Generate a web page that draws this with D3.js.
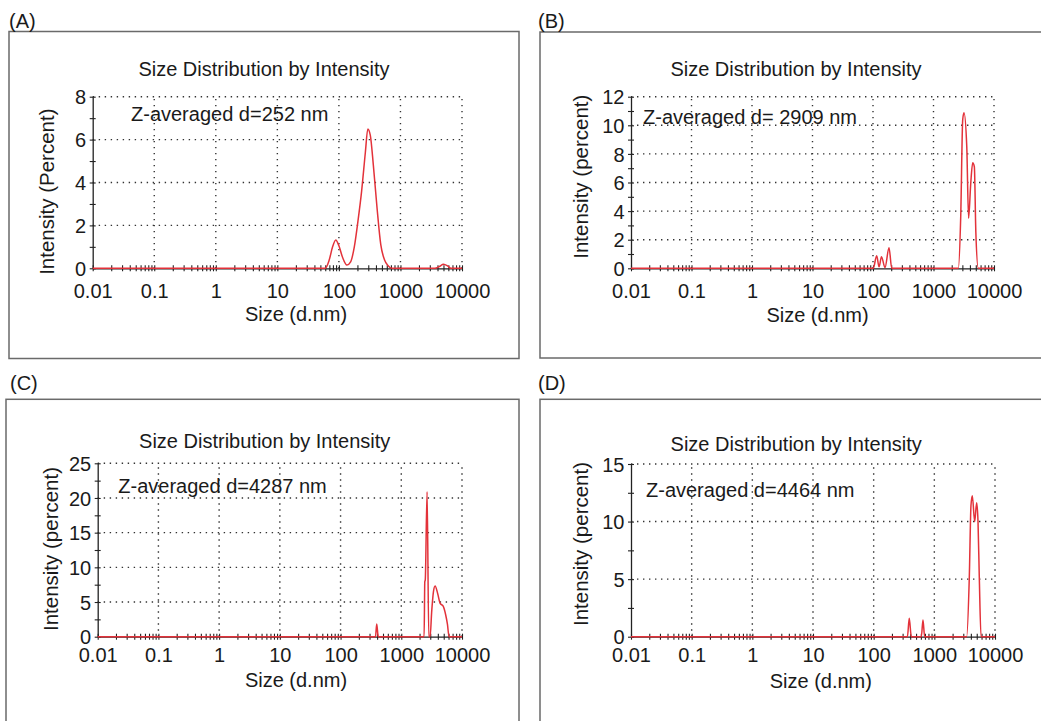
<!DOCTYPE html>
<html>
<head>
<meta charset="utf-8">
<script src="https://cdn.jsdelivr.net/npm/d3@7"></script>
<style>
body { margin: 0; background: #fff; }
svg { display: block; }
text { font-family: "Liberation Sans", Arial, sans-serif; fill: #1a1a1a; }
</style>
</head>
<body>
<svg id="fig" width="1041" height="721"></svg>
<script>
// ---- data ----
var sizeMajor = [0.01, 0.1, 1, 10, 100, 1000, 10000];
var sizeLabels = ["0.01", "0.1", "1", "10", "100", "1000", "10000"];
var panelLabels = ["(A)", "(B)", "(C)", "(D)"];
var chartTitle = "Size Distribution by Intensity";
var xTitle = "Size (d.nm)";
var yTitles = ["Intensity (Percent)", "Intensity (percent)", "Intensity (percent)", "Intensity (percent)"];
var zNotes = ["Z-averaged d=252 nm", "Z-averaged d= 2909 nm", "Z-averaged d=4287 nm", "Z-averaged d=4464 nm"];
var yMax = [8, 12, 25, 15];
var yStep = [2, 2, 5, 5];

var sizesA = [0.01, 60, 69, 79, 89, 100, 115, 135, 155, 178, 204, 234, 269, 295, 324, 363, 417, 479, 550, 631, 724, 3631, 4266, 5012, 5888, 6607, 10000];
var intensityA = [0, 0, 0.35, 1.0, 1.32, 1.05, 0.5, 0.15, 0.3, 1.0, 2.2, 3.6, 5.4, 6.5, 6.2, 4.8, 2.8, 1.1, 0.4, 0.12, 0, 0, 0.08, 0.19, 0.1, 0, 0];

var sizesB = [0.01, 101, 115, 126, 138, 158, 184, 204, 2570, 2818, 3041, 3192, 3548, 3802, 4121, 4446, 4732, 5012, 5495, 10000];
var intensityB = [0, 0, 0.88, 0.1, 0.81, 0.05, 1.44, 0, 0, 3.6, 10.4, 10.88, 8.5, 3.5, 5.9, 7.38, 7.1, 2.5, 0, 0];

var sizesC = [0.01, 376, 394, 417, 2377, 2438, 2483, 2661, 2838, 2985, 3162, 3388, 3606, 3981, 4365, 4898, 5370, 5754, 6124, 10000];
var intensityC = [0, 0, 1.83, 0, 0, 7.9, 8.2, 20.9, 0, 0, 3.5, 6.5, 7.3, 6.2, 4.8, 4.4, 3.2, 1.8, 0, 0];

var sizesD = [0.01, 360, 386, 417, 610, 650, 692, 3412, 3767, 4018, 4227, 4624, 4989, 5248, 5508, 5888, 10000];
var intensityD = [0, 0, 1.6, 0, 0, 1.45, 0, 0, 5.07, 11.4, 12.25, 10.0, 11.64, 10.0, 5.2, 0, 0];

var allSizes = [sizesA, sizesB, sizesC, sizesD];
var allIntensity = [intensityA, intensityB, intensityC, intensityD];

// ---- layout of the four panels ----
var layout = [
  {frame: [9, 31.5, 510, 327], plot: [92.7, 462, 96.7, 268.3], label: [9, 28], title: [264, 76], note: [131, 120.7], xl: [296, 321], yl: [54, 191.7], tickOff: 29.5},
  {frame: [540, 32, 520, 326], plot: [631, 994, 96.7, 268.3], label: [538, 28], title: [796, 76], note: [643, 124], xl: [817.5, 321.7], yl: [588, 176.7], tickOff: 29.5},
  {frame: [6, 399.3, 513, 340], plot: [97.7, 462, 463.3, 636.7], label: [10, 390], title: [264.7, 448.3], note: [118.3, 492.7], xl: [296, 686.7], yl: [58, 549], tickOff: 25.5},
  {frame: [540, 399.3, 520, 340], plot: [631, 995, 464, 636.7], label: [538, 390], title: [796.2, 450.7], note: [646, 497.3], xl: [820.8, 688.3], yl: [588, 544], tickOff: 25.5}
];

var svg = d3.select("#fig");

// all log ticks 0.01 .. 10000
var logTicks = [];
for (var e = -2; e < 4; e++) {
  for (var m = 1; m < 10; m++) logTicks.push(m * Math.pow(10, e));
}
logTicks.push(10000);

layout.forEach(function(L, i) {
  var g = svg.append("g");

  g.append("rect")
    .attr("x", L.frame[0]).attr("y", L.frame[1])
    .attr("width", L.frame[2]).attr("height", L.frame[3])
    .attr("fill", "none").attr("stroke", "#6a6a6a").attr("stroke-width", 1.5);

  g.append("text").attr("x", L.label[0]).attr("y", L.label[1])
    .style("font-size", "20px").text(panelLabels[i]);

  var x = d3.scaleLog().domain([0.01, 10000]).range([L.plot[0], L.plot[1]]);
  var y = d3.scaleLinear().domain([0, yMax[i]]).range([L.plot[3], L.plot[2]]);

  // dotted grid
  g.selectAll(".gx").data(sizeMajor.slice(1)).enter().append("line")
    .attr("x1", function(d) { return x(d); }).attr("x2", function(d) { return x(d); })
    .attr("y1", y(0)).attr("y2", y(yMax[i]))
    .attr("stroke", "#333").attr("stroke-width", 1.4).attr("stroke-dasharray", "1.4,4.6");
  var yMajor = d3.range(yStep[i], yMax[i] + 0.001, yStep[i]);
  g.selectAll(".gy").data(yMajor).enter().append("line")
    .attr("x1", x(0.01)).attr("x2", x(10000))
    .attr("y1", function(d) { return y(d); }).attr("y2", function(d) { return y(d); })
    .attr("stroke", "#333").attr("stroke-width", 1.4).attr("stroke-dasharray", "1.4,4.6");

  // x axis
  var xAxis = d3.axisBottom(x).tickValues(logTicks).tickSize(3).tickSizeOuter(0)
    .tickFormat(function(d) {
      var k = sizeMajor.findIndex(function(v) { return Math.abs(v - d) / v < 1e-6; });
      return k >= 0 ? sizeLabels[k] : "";
    });
  var gx = g.append("g").attr("transform", "translate(0," + y(0) + ")").call(xAxis);
  gx.select(".domain").attr("stroke", "#222").attr("stroke-width", 1.3);
  gx.selectAll(".tick line").attr("y1", -3).attr("stroke", "#222").attr("stroke-width", 1.1);
  gx.selectAll(".tick text").attr("y", L.tickOff).attr("dy", null)
    .style("font-size", "20px").style("font-family", "'Liberation Sans', Arial, sans-serif").attr("fill", "#1a1a1a");

  // y axis
  var yTicks = d3.range(0, yMax[i] + 0.001, yStep[i] / 2);
  var yAxis = d3.axisLeft(y).tickValues(yTicks).tickSize(3).tickSizeOuter(0)
    .tickFormat(function(d) { return Math.abs(d / yStep[i] - Math.round(d / yStep[i])) < 1e-6 ? d : ""; });
  var gy = g.append("g").attr("transform", "translate(" + x(0.01) + ",0)").call(yAxis);
  gy.select(".domain").attr("stroke", "#222").attr("stroke-width", 1.3);
  gy.selectAll(".tick line").attr("x1", 3).attr("stroke", "#222").attr("stroke-width", 1.1);
  gy.selectAll(".tick text").attr("x", -6.5).attr("dy", "0.36em")
    .style("font-size", "20px").style("font-family", "'Liberation Sans', Arial, sans-serif").attr("fill", "#1a1a1a");

  // distribution curve
  var pts = d3.zip(allSizes[i], allIntensity[i]);
  var line = d3.line()
    .x(function(d) { return x(d[0]); })
    .y(function(d) { return y(d[1]); })
    .curve(d3.curveMonotoneX);
  g.append("path").datum(pts).attr("d", line)
    .attr("fill", "none").attr("stroke", "#e3323a").attr("stroke-width", 1.5);

  // texts
  g.append("text").attr("x", L.title[0]).attr("y", L.title[1]).attr("text-anchor", "middle")
    .style("font-size", "20px").text(chartTitle);
  g.append("text").attr("x", L.note[0]).attr("y", L.note[1])
    .style("font-size", "20px").text(zNotes[i]);
  g.append("text").attr("x", L.xl[0]).attr("y", L.xl[1]).attr("text-anchor", "middle")
    .style("font-size", "20px").text(xTitle);
  g.append("text").attr("transform", "translate(" + L.yl[0] + "," + L.yl[1] + ") rotate(-90)")
    .attr("text-anchor", "middle").style("font-size", "20.5px").text(yTitles[i]);
});
</script>
</body>
</html>
